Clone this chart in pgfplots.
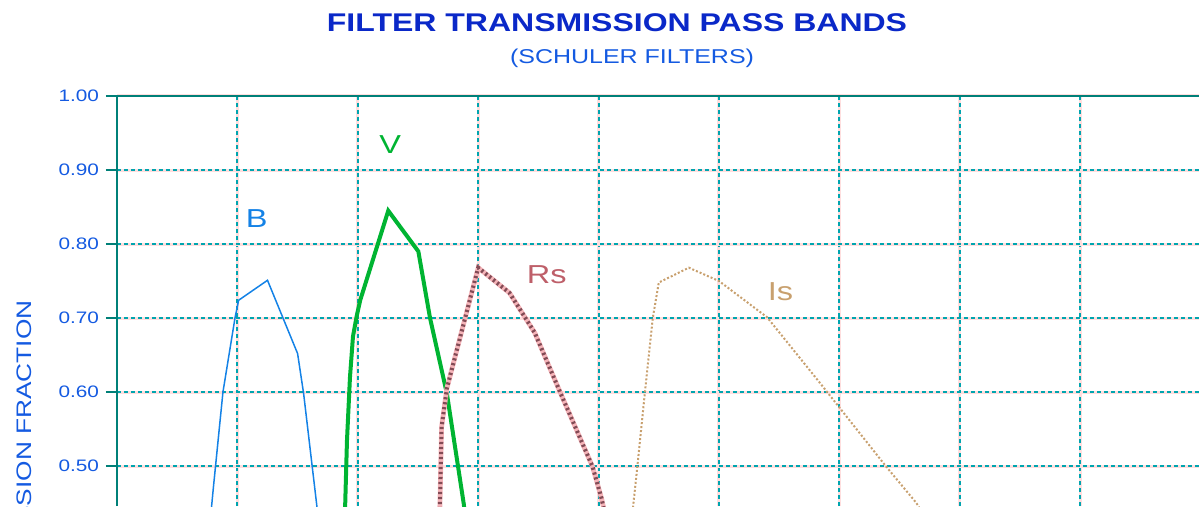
\documentclass[border=0pt]{standalone}
\usepackage{fontspec}
\setmainfont{Liberation Sans}[FakeStretch=1.25]
\usepackage{pgfplots}
\pgfplotsset{compat=1.18}
\definecolor{gridteal}{RGB}{0,165,175}
\definecolor{gridpink}{RGB}{255,222,222}
\definecolor{axteal}{RGB}{0,128,120}
\definecolor{tickblue}{RGB}{20,90,225}
\definecolor{titleblue}{RGB}{10,40,200}
\definecolor{bblue}{RGB}{20,130,230}
\definecolor{vgreen}{RGB}{0,180,50}
\definecolor{rsdark}{RGB}{130,75,85}
\definecolor{rspink}{RGB}{245,180,185}
\definecolor{rslabel}{RGB}{190,95,105}
\definecolor{istan}{RGB}{200,160,110}

\pgfplotstableread{
x y
370 0.30
380 0.47
388 0.60
398 0.700
401 0.724
425 0.751
450 0.652
455 0.598
466 0.446
475 0.30
}\Bdata
\pgfplotstableread{
x y
485 0.35
489.5 0.446
491 0.534
493.5 0.62
496 0.675
499 0.702
502 0.724
525.3 0.845
550.3 0.79
560 0.70
574 0.598
588 0.449
595 0.35
}\Vdata
\pgfplotstableread{
x y
566 0.30
568.3 0.454
569.6 0.553
574 0.605
600 0.768
626 0.734
647 0.68
668 0.60
695 0.499
702.5 0.456
710 0.40
}\Rsdata
\pgfplotstableread{
x y
725 0.39
731.6 0.49
738.5 0.60
745 0.70
750 0.748
775 0.768
800 0.750
840 0.701
884 0.612
939 0.499
964 0.450
975 0.42
}\Isdata

\begin{document}
\begin{tikzpicture}
\begin{axis}[name=ax, scale only axis, width=541pt, height=205pt,
  xmin=300, xmax=1198.7, ymin=0.446, ymax=1.0,
  axis x line*=top, axis y line*=left,
  axis line style={axteal, line width=1pt},
  xtick={400,500,...,1100}, xticklabels={}, xtick style={draw=none},
  ytick={0.5,0.6,0.7,0.8,0.9,1.0},
  ytick style={axteal, line width=1pt},
  tick align=outside, major tick length=5.5pt,
  /pgf/number format/assume math mode=true,
  yticklabel style={/pgf/number format/fixed, /pgf/number format/fixed zerofill, /pgf/number format/precision=2, font=\fontsize{8.3}{9}\selectfont, text=tickblue},
  grid=major,
  major grid style={gridteal, line width=1pt, dash pattern=on 2pt off 1.5pt, preaction={draw=gridpink, line width=1.5pt, solid}},
  no markers,
  clip=true,
  ]
\addplot[bblue, line width=0.75pt] table {\Bdata};
\addplot[vgreen, line width=2pt] table {\Vdata};
\addplot[rsdark, line width=2pt, dash pattern=on 1.1pt off 1.4pt, preaction={draw=rspink, line width=2.4pt, solid}] table {\Rsdata};
\addplot[istan, line width=1pt, dash pattern=on 1pt off 1pt] table {\Isdata};
\node[text=bblue, font=\fontsize{13}{15}\selectfont] at (axis cs:416,0.834) {B};
\node[text=vgreen, font=\fontsize{13}{15}\selectfont] at (axis cs:527,0.934) {V};
\node[text=rslabel, font=\fontsize{13}{15}\selectfont] at (axis cs:657,0.758) {Rs};
\node[text=istan, font=\fontsize{13}{15}\selectfont] at (axis cs:851,0.7355) {Is};
\end{axis}
\node[anchor=base, text=titleblue, font=\bfseries\fontsize{12.8}{14}\selectfont] at ([xshift=250pt, yshift=32.5pt]ax.north west) {FILTER TRANSMISSION PASS BANDS};
\node[anchor=base, text=tickblue, font=\fontsize{10}{11}\selectfont] at ([xshift=257.5pt, yshift=16.5pt]ax.north west) {(SCHULER FILTERS)};
\node[rotate=90, anchor=east, inner sep=0pt, text=tickblue, font=\fontsize{10.5}{12}\selectfont] at ([xshift=-46.5pt, yshift=-102pt]ax.north west) {TRANSMISSION FRACTION};
\pgfresetboundingbox
\path[use as bounding box] ([xshift=-58.5pt, yshift=48pt]ax.north west) rectangle (ax.south east);
\end{tikzpicture}
\end{document}
